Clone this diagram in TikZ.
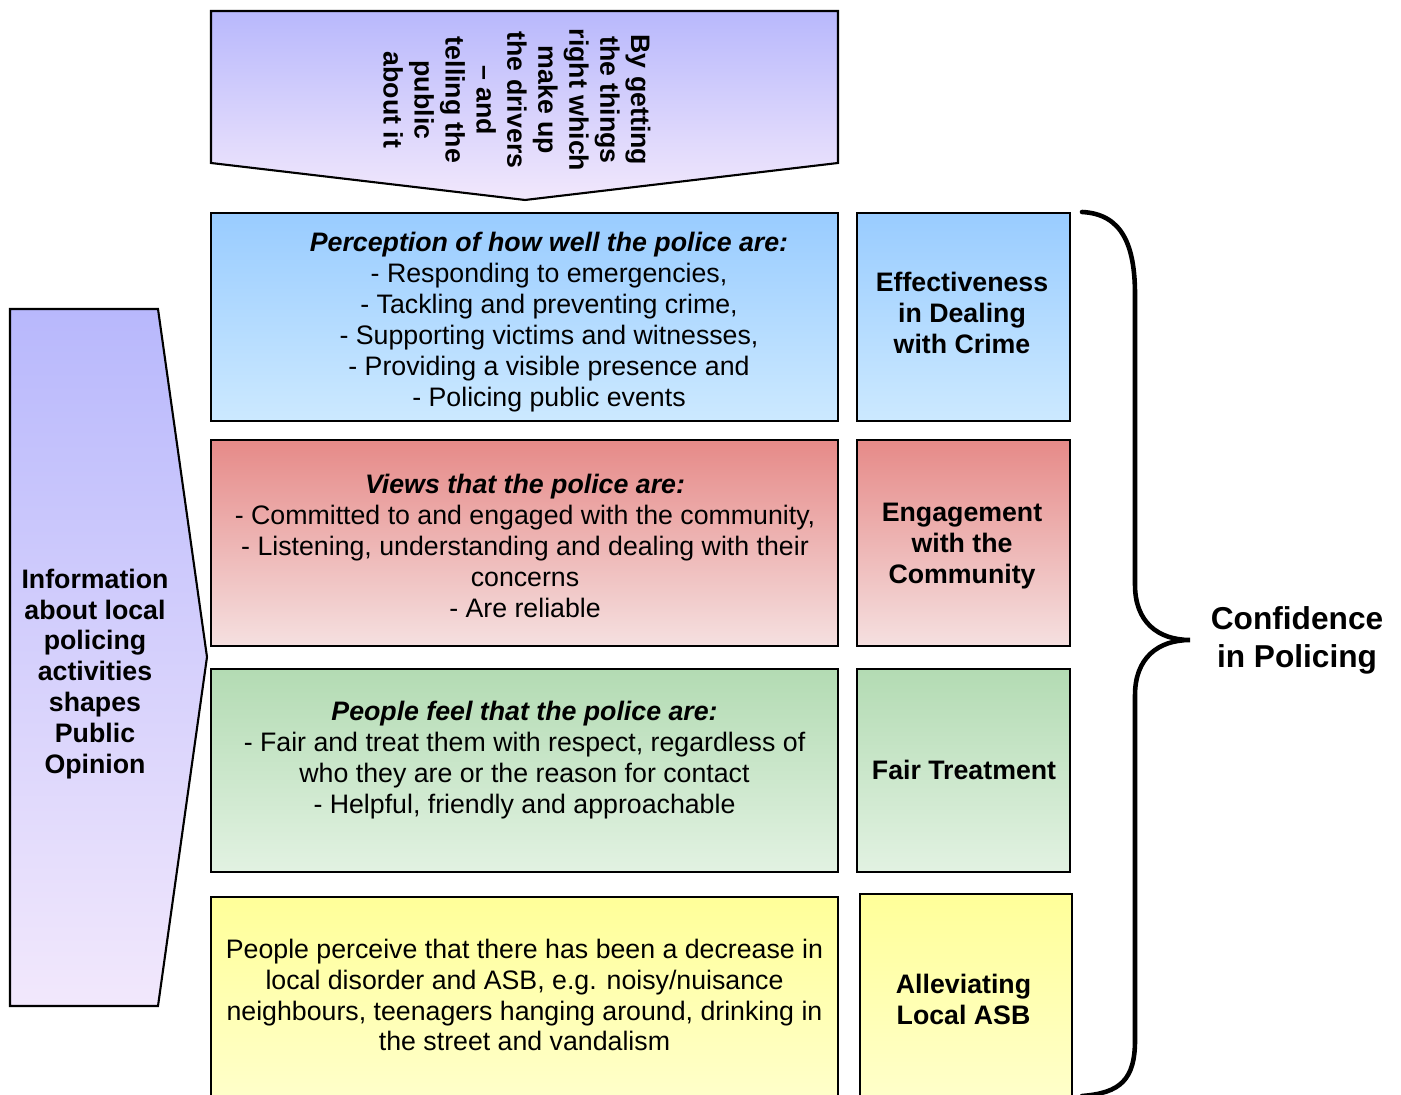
\documentclass[tikz,border=0pt]{standalone}
\usepackage{fontspec}
\setmainfont{Liberation Sans}
\usepackage{tikz}
\usetikzlibrary{positioning}
\definecolor{LilacTop}{HTML}{B8B8FC}
\definecolor{LilacBot}{HTML}{F2E8FC}
\definecolor{SkyTop}{HTML}{99CCFF}
\definecolor{SkyBot}{HTML}{CCE9FF}
\definecolor{RoseTop}{HTML}{E68A88}
\definecolor{RoseBot}{HTML}{F5E0E0}
\definecolor{MintTop}{HTML}{B3DBB3}
\definecolor{MintBot}{HTML}{E2F2E2}
\definecolor{LemonTop}{HTML}{FFFF99}
\definecolor{LemonBot}{HTML}{FFFFCC}
\newcommand{\boxsize}{\fontsize{7.6pt}{8.8pt}\selectfont}

\begin{document}
\begin{tikzpicture}[
  x=0.01cm,y=-0.01cm,
  mainbox/.style={draw=black,line width=0.6pt,minimum width=6.27cm,inner sep=0pt},
  sidebox/.style={draw=black,line width=0.6pt,minimum width=2.13cm,inner sep=0pt},
  pointer/.style={draw=black,line width=0.6pt,top color=LilacTop,bottom color=LilacBot},
  body/.style={font=\boxsize,align=center,inner sep=0pt},
  label/.style={font=\boxsize\bfseries,align=center,inner sep=0pt},
  brace/.style={draw=black,line width=1.3pt,line cap=round}
]
\clip (0,0) rectangle (1401,1095);

% top pointer
\path[pointer] (211,11) -- (838,11) -- (838,163) -- (525,200) -- (211,163) -- cycle;
\node[label,rotate=-90] (drivers) at (517,100) {By getting\\the things\\right which\\make up\\the drivers\\-- and\\telling the\\public\\about it};

% left pointer
\path[pointer] (10,309) -- (158,309) -- (207,657) -- (158,1006) -- (10,1006) -- cycle;
\node[label] (info) at (95,674) {Information\\about local\\policing\\activities\\shapes\\Public\\Opinion};

% row 1
\node[mainbox,top color=SkyTop,bottom color=SkyBot,minimum height=2.08cm] (crimebox) at (524.5,317) {};
\node[body] (crimetext) at (549,322)
  {\textbf{\textit{Perception of how well the police are:}}\\- Responding to emergencies,\\- Tackling and preventing crime,\\- Supporting victims and witnesses,\\- Providing a visible presence and\\- Policing public events};
\node[sidebox,top color=SkyTop,bottom color=SkyBot,minimum height=2.08cm] (effectbox) at (963.5,317) {};
\node[label] (effect) at (962,313) {Effectiveness\\in Dealing\\with Crime};

% row 2
\node[mainbox,top color=RoseTop,bottom color=RoseBot,minimum height=2.06cm] (viewsbox) at (524.5,543) {};
\node[body] (views) at (525,546)
  {\textbf{\textit{Views that the police are:}}\\- Committed to and engaged with the community,\\- Listening, understanding and dealing with their\\concerns\\- Are reliable};
\node[sidebox,top color=RoseTop,bottom color=RoseBot,minimum height=2.06cm] (engagebox) at (963.5,543) {};
\node[label] (engage) at (962,546) {Engagement\\with the\\Community};

% row 3
\node[mainbox,top color=MintTop,bottom color=MintBot,minimum height=2.03cm] (feelbox) at (524.5,770.5) {};
\node[body] (feel) at (524.5,760)
  {\textbf{\textit{People feel that the police are:}}\\- Fair and treat them with respect, regardless of\\who they are or the reason for contact\\- Helpful, friendly and approachable};
\node[sidebox,top color=MintTop,bottom color=MintBot,minimum height=2.03cm] (fairbox) at (963.5,770.5) {};
\node[label] (fair) at (964,770) {Fair Treatment};

% row 4
\node[mainbox,top color=LemonTop,bottom color=LemonBot,minimum height=2.08cm] (asbbox) at (524.5,1001) {};
\node[body] (asb) at (524.5,995)
  {People perceive that there has been a decrease in\\local disorder and ASB, e.g. noisy/nuisance\\neighbours, teenagers hanging around, drinking in\\the street and vandalism};
\node[sidebox,top color=LemonTop,bottom color=LemonBot,minimum width=2.12cm,minimum height=2.11cm] (localbox) at (966,999.5) {};
\node[label] (local) at (963.5,999) {Alleviating\\Local ASB};

% brace
\coordinate (tip) at (1190,640);
\draw[brace] (1082,212) .. controls (1122,214) and (1135,245) .. (1135,295)
  -- (1135,585) .. controls (1135,622) and (1158,640) .. (tip)
  .. controls (1158,640) and (1135,658) .. (1135,695)
  -- (1135,1040) .. controls (1135,1080) and (1120,1093) .. (1082,1096);
\node[font=\fontsize{9pt}{10.8pt}\selectfont\bfseries,align=center,inner sep=0pt] (conf) at (1297,640) {Confidence\\in Policing};
\end{tikzpicture}
\end{document}
